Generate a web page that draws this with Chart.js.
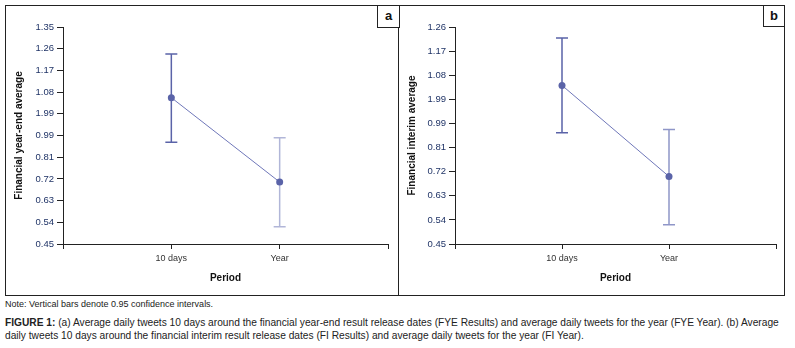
<!DOCTYPE html>
<html>
<head>
<meta charset="utf-8">
<script src="https://cdn.jsdelivr.net/npm/chart.js@4.4.0/dist/chart.umd.min.js"></script>
<style>
  body { margin: 0; background: #fff; font-family: "Liberation Sans", Arial, sans-serif; }
  #frame { position: absolute; left: 5px; top: 5px; width: 778px; height: 289px; border: 1px solid #222; }
  #divider { position: absolute; left: 398px; top: 5px; width: 1px; height: 290px; background: #222; }
  .tag { position: absolute; border: 1px solid #222; background: #fff; font-weight: bold; font-size: 13px; text-align: center; color: #111; }
  canvas { position: absolute; }
  .note { position: absolute; left: 5px; top: 299px; font-size: 9px; color: #222; white-space: nowrap; }
  .cap { position: absolute; left: 5px; top: 316px; width: 784px; font-size: 10.2px; line-height: 13px; color: #222; }
</style>
</head>
<body>
<div id="frame"></div>
<div id="divider"></div>
<canvas id="chartA" width="393" height="290" style="left:5px;top:5px"></canvas>
<canvas id="chartB" width="385" height="290" style="left:399px;top:5px"></canvas>
<div class="tag" style="left:377px;top:5px;width:21px;height:21px;line-height:20px">a</div>
<div class="tag" style="left:763px;top:5px;width:20px;height:20px;line-height:19px">b</div>
<div class="note">Note: Vertical bars denote 0.95 confidence intervals.</div>
<div class="cap"><b>FIGURE 1:</b> (a) Average daily tweets 10 days around the financial year-end result release dates (FYE Results) and average daily tweets for the year (FYE Year). (b) Average daily tweets 10 days around the financial interim result release dates (FI Results) and average daily tweets for the year (FI Year).</div>

<script>
// categories (empty slots pad the axis ends)
const periods = ['10 days', 'Year']

// panel a: financial year-end
const meanA = [1.057, 0.707]
const lowA = [0.872, 0.522]
const highA = [1.238, 0.891]
const tickValsA = [0.45, 0.54, 0.63, 0.72, 0.81, 0.90, 0.99, 1.08, 1.17, 1.26, 1.35]
const tickLabelsA = ['0.45', '0.54', '0.63', '0.72', '0.81', '0.99', '1.99', '1.08', '1.17', '1.26', '1.35']

// panel b: financial interim
const meanB = [1.042, 0.702]
const lowB = [0.865, 0.522]
const highB = [1.219, 0.877]
const tickValsB = [0.45, 0.54, 0.63, 0.72, 0.81, 0.90, 0.99, 1.08, 1.17, 1.26]
const tickLabelsB = ['0.45', '0.54', '0.63', '0.72', '0.81', '0.99', '1.99', '1.08', '1.17', '1.26']


const errorBars = {
    id: 'errorBars',
    beforeDatasetsDraw(chart, args, opts) {
        let ctx = chart.ctx
        let x = chart.scales.x
        let y = chart.scales.y
        ctx.save()
        ctx.lineWidth = 1.5
        opts.low.forEach((lo, i) => {
            let px = x.getPixelForValue(i + 1)
            let top = y.getPixelForValue(opts.high[i])
            let bot = y.getPixelForValue(lo)
            ctx.strokeStyle = opts.colors[i]
            ctx.beginPath()
            ctx.moveTo(px, top); ctx.lineTo(px, bot)
            ctx.moveTo(px - 6, top); ctx.lineTo(px + 6, top)
            ctx.moveTo(px - 6, bot); ctx.lineTo(px + 6, bot)
            ctx.stroke()
        })
        ctx.restore()
    }
}


function makeChart(id, mean, low, high, tickVals, tickLabels, yMax, yTitle, yWidth, titlePad, padTop, padRight, barColors) {

    return new Chart(document.getElementById(id), {
      type: 'line',
      data: {
        labels: [''].concat(periods, ['']),
        datasets: [{
          data: [null].concat(mean, [null]),
          borderColor: '#6f77b9',
          borderWidth: 1,
          pointRadius: 3.5,
          pointBackgroundColor: '#5a63a8',
          pointBorderWidth: 0,
          tension: 0
        }]
      },
      options: {
        responsive: false,
        animation: false,
        events: [],
        layout: { padding: { top: padTop, right: padRight, left: 0, bottom: 0 } },
        scales: {
            x: {
                offset: false,
                grid: { display: true, drawOnChartArea: false, tickLength: 5, color: '#222', offset: false },
                border: { display: true, color: '#222', width: 1 },
                ticks: { color: '#333', font: { family: 'Liberation Sans', size: 9 }, padding: 4, maxRotation: 0, autoSkip: false },
                title: { display: true, text: 'Period', color: '#111', font: { family: 'Liberation Sans', size: 10, weight: 'bold' }, padding: { bottom: 11, top: 0 } },
                afterFit: function(scale) { scale.height = 51 }
            },
            y: {
                min: 0.45,
                max: yMax,
                grid: { display: true, drawOnChartArea: false, tickLength: 6, color: '#222' },
                border: { display: true, color: '#222', width: 1 },
                afterBuildTicks: function(axis) { axis.ticks = tickVals.map(v => ({ value: v })) },
                ticks: {
                    color: '#1f3366',
                    font: { family: 'Liberation Sans', size: 9.5 },
                    padding: 3,
                    // labels as printed in the figure
                    callback: function(value, index) { return tickLabels[index] }
                },
                title: { display: true, text: yTitle, color: '#111', font: { family: 'Liberation Sans', size: 10, weight: 'bold' }, padding: { top: titlePad, bottom: 0 } },
                afterFit: function(scale) { scale.width = yWidth }
            }
        },
        plugins: {
            legend: { display: false },
            tooltip: { enabled: false },
            errorBars: { low: low, high: high, colors: barColors }
        }
      },
      plugins: [errorBars]
    })
}

makeChart('chartA', meanA, lowA, highA, tickValsA, tickLabelsA, 1.35, 'Financial year-end average', 58, 8.5, 22, 10, ['#5a63a8', '#b1b6d8'])
makeChart('chartB', meanB, lowB, highB, tickValsB, tickLabelsB, 1.26, 'Financial interim average', 56, 7.5, 22, 8, ['#5a63a8', '#8f96c8'])
</script>
</body>
</html>
